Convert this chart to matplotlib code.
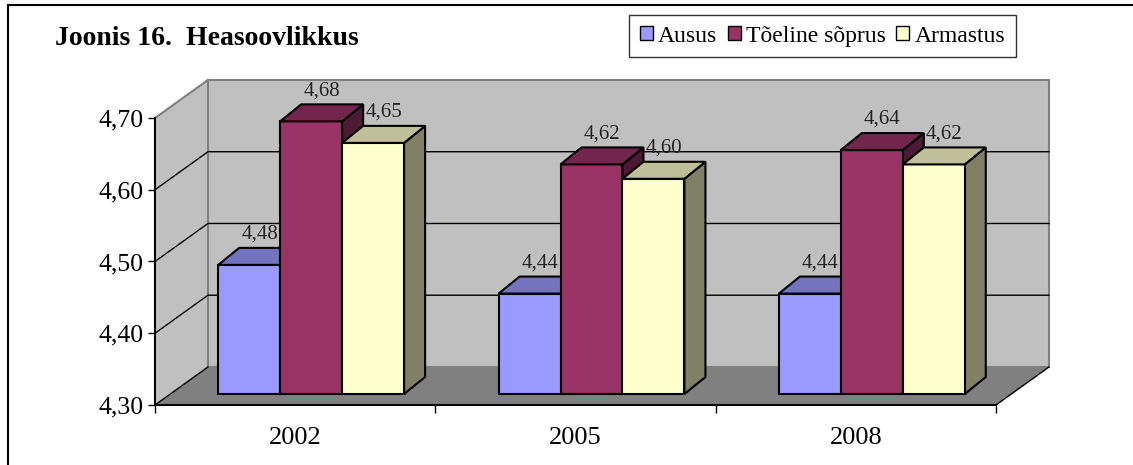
import numpy as np
import matplotlib
matplotlib.use("Agg")
import matplotlib.pyplot as plt
import matplotlib.colors as mcolors
from matplotlib.patches import Polygon, Rectangle
from matplotlib.lines import Line2D

plt.rcParams['font.family'] = ['Liberation Serif', 'DejaVu Serif']

# andmed
years = ['2002', '2005', '2008']
series = ['Ausus', 'Tõeline sõprus', 'Armastus']
ausus = [4.48, 4.44, 4.44]
soprus = [4.68, 4.62, 4.64]
armastus = [4.65, 4.60, 4.62]
values = [ausus, soprus, armastus]
colors = ['#9999FF', '#993366', '#FFFFCC']
yticks = [4.30, 4.40, 4.50, 4.60, 4.70]

Y0, Y1 = yticks[0], yticks[-1]
N = len(years)

# 3D nihked (andmeühikutes)
WX, WY = 0.189, 0.053     # tagasein
FX, FY = 0.057, 0.0153    # tulba esikülg
BX, BY = 0.132, 0.039     # tulba tagakülg
W = 0.221
GAP = (1 - 3 * W) / 2


def shade(c, f):
    return tuple(np.array(mcolors.to_rgb(c)) * f)


fig = plt.figure(figsize=(11.33, 4.65), dpi=100)
ax = fig.add_axes([155 / 1133, 60 / 465, 841 / 1133, 287 / 465])
ax.patch.set_visible(False)

# seinad ja põrand
ax.add_patch(Polygon([(0, Y0), (N, Y0), (N + WX, Y0 + WY), (WX, Y0 + WY)],
                     fc='#808080', ec='none', zorder=0.5, clip_on=False))
ax.add_patch(Polygon([(0, Y0), (WX, Y0 + WY), (WX, Y1 + WY), (0, Y1)],
                     fc='#C0C0C0', ec='none', zorder=0.5, clip_on=False))
ax.add_patch(Polygon([(WX, Y0 + WY), (N + WX, Y0 + WY), (N + WX, Y1 + WY), (WX, Y1 + WY)],
                     fc='#C0C0C0', ec='#808080', lw=1.5, zorder=0.6, clip_on=False))
ax.plot([0, WX], [Y1, Y1 + WY], color='#808080', lw=1.5, zorder=0.7, clip_on=False)

# abijooned
for v in yticks[1:-1]:
    ax.plot([0, WX, N + WX], [v, v + WY, v + WY], color='k', lw=1, zorder=0.8, clip_on=False)
ax.plot([0, WX], [Y0, Y0 + WY], color='k', lw=1, zorder=0.8, clip_on=False)
ax.plot([N, N + WX], [Y0, Y0 + WY], color='k', lw=1, zorder=0.8, clip_on=False)

# tulbad
for j in range(N):
    for i, vals in enumerate(values):
        v = vals[j]
        c = colors[i]
        x0 = j + GAP + i * W
        z = 3 + j * 10 + i * 3
        side = [(x0 + W + FX, Y0 + FY), (x0 + W + FX, v + FY),
                (x0 + W + BX, v + BY), (x0 + W + BX, Y0 + BY)]
        ax.add_patch(Polygon(side, fc=shade(c, 0.5), ec='k', lw=1.5,
                             zorder=z, clip_on=False, joinstyle='miter'))
        ax.bar(x0 + FX, v - Y0, bottom=Y0 + FY, width=W, align='edge',
               color=c, edgecolor='k', lw=1.5, zorder=z + 1, clip_on=False)
        top = [(x0 + FX, v + FY), (x0 + W + FX, v + FY),
               (x0 + W + BX, v + BY), (x0 + BX, v + BY)]
        ax.add_patch(Polygon(top, fc=shade(c, 0.75), ec='k', lw=1.5,
                             zorder=z + 2, clip_on=False, joinstyle='miter'))
        ax.text(x0 + W / 2 + (FX + BX) / 2, v + BY + 0.006,
                f'{v:.2f}'.replace('.', ','), ha='center', va='bottom',
                fontsize=15, zorder=100, color='#222222')

ax.set_xlim(0, N)
ax.set_ylim(Y0, Y1)

ax.set_yticks(yticks)
ax.set_yticklabels([f'{t:.2f}'.replace('.', ',') for t in yticks])
ax.tick_params(axis='y', length=5, width=1, labelsize=18.5, pad=3)

ax.set_xticks(range(N + 1))
ax.set_xticklabels([''] * (N + 1))
ax.set_xticks([j + 0.5 for j in range(N)], minor=True)
ax.set_xticklabels(years, minor=True)
ax.tick_params(axis='x', which='major', length=6, width=1)
ax.tick_params(axis='x', which='minor', length=0, labelsize=19, pad=16)

for s in ['top', 'right']:
    ax.spines[s].set_visible(False)
for s in ['left', 'bottom']:
    ax.spines[s].set_linewidth(1.5)
    ax.spines[s].set_zorder(0.9)

# legend
handles = [Rectangle((0, 0), 1, 1, fc=c, ec='k', lw=1) for c in colors]
leg = fig.legend(handles, series, loc='upper left',
                 bbox_to_anchor=(629 / 1133, 1 - 15 / 465), ncol=3,
                 frameon=True, fancybox=False, edgecolor='k', fontsize=17,
                 handlelength=0.55, handleheight=0.55, handletextpad=0.22,
                 columnspacing=0.45, borderpad=0.45, borderaxespad=0)
leg.get_frame().set_linewidth(1)

# pealkiri
fig.text(55 / 1133, 1 - 45 / 465, 'Joonis 16.  Heasoovlikkus',
         fontsize=20, fontweight='bold', va='baseline')

# raam
fig.add_artist(Line2D([8 / 1133, 8 / 1133], [0, 1 - 5 / 465],
                      transform=fig.transFigure, color='k', lw=1.5))
fig.add_artist(Line2D([8 / 1133, 1], [1 - 5 / 465, 1 - 5 / 465],
                      transform=fig.transFigure, color='k', lw=1.5))

fig.savefig('out.png', dpi=100)
